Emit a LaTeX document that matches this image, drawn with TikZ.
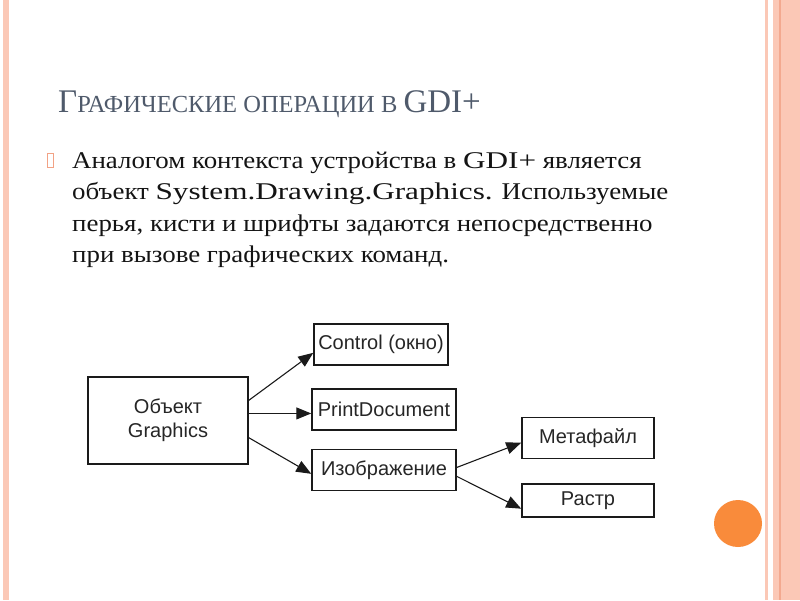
\documentclass[tikz,border=0pt]{standalone}
\usepackage{fontspec}
\setmainfont{Liberation Serif}
\newfontfamily\bodyfont{Liberation Serif}[FakeStretch=1.12]
\newfontfamily\latinwide{Liberation Serif}[FakeStretch=1.3]
\newfontfamily\diagfont{Liberation Sans}
\usepackage{xcolor}
\usepackage{tikz}
\usetikzlibrary{arrows.meta, positioning}
\definecolor{salmon}    {HTML}{FBC8B6}
\definecolor{salmondark}{HTML}{F3A98F}
\definecolor{dotorange} {HTML}{F98B3B}
\definecolor{titlegray} {HTML}{4F5A6B}
\definecolor{boxline}   {HTML}{1A1A1A}
\definecolor{bulletcol} {HTML}{F2A285}

\begin{document}
\begin{tikzpicture}[
    x=1pt, y=-1pt,
    node distance=24pt,
    box/.style={draw=boxline, line width=1.5pt, minimum height=41pt,
                inner sep=0pt, text=black!85,
                font=\diagfont\fontsize{20}{24}\selectfont},
    arr/.style={-{Triangle[length=15pt, width=12pt]}, line width=1.1pt,
                color=boxline},
  ]
    \useasboundingbox (0,0) rectangle (800,600);

    % slide frame
    \fill[salmon]     (3,0)   rectangle (9,600);
    \fill[salmon]     (765,0) rectangle (768,600);
    \fill[salmon]     (773,0) rectangle (800,600);
    \fill[salmondark] (779,0) rectangle (781,600);
    \fill[dotorange]  (738,523.5) ellipse (24 and 23.5);

    % heading and text
    \node[anchor=base west, inner sep=0pt, text=titlegray] (title) at (58,112)
      {{\fontsize{33}{33}\selectfont Г}{\fontsize{24.5}{33}\selectfont
       РАФИЧЕСКИЕ ОПЕРАЦИИ В }{\fontsize{33}{33}\selectfont GDI+}};

    \node[draw=bulletcol, line width=0.8pt, minimum width=6pt,
          minimum height=14pt, inner sep=0pt] (bullet) at (50.5,160) {};

    \node[anchor=base west, align=left, inner sep=0pt, text=black!92,
          font=\bodyfont\fontsize{24}{31.5}\selectfont] (body) at (72,262.5)
      {Аналогом контекста устройства в {\latinwide GDI+} является\\
       объект {\latinwide System.Drawing.Graphics.} Используемые\\
       перья, кисти и шрифты задаются непосредственно\\
       при вызове графических команд.};

    % diagram
    \node[box, minimum width=160pt, minimum height=87pt, align=center]
      (graphics) at (168,420.5) {Объект\\Graphics};

    \node[box, minimum width=134pt] (control) at (381,344.5) {Control (окно)};
    \node[box, minimum width=144pt] (printdoc) at (384,409.5) {PrintDocument};
    \node[box, minimum width=144pt, below=18pt of printdoc] (image) {Изображение};

    \node[box, minimum width=132pt] (metafile) at (588,438) {Метафайл};
    \node[box, minimum width=132pt, minimum height=33pt,
          below=24pt of metafile] (raster) {Растр};

    \draw[arr] (graphics.14)  -- (control.187);
    \draw[arr] (graphics.5)   -- (graphics.5 -| printdoc.west);
    \draw[arr] (graphics.-12) -- (image.183);
    \draw[arr] (image.2)      -- (metafile.184);
    \draw[arr] (image.-5)     -- (raster.187);
  \end{tikzpicture}
\end{document}
